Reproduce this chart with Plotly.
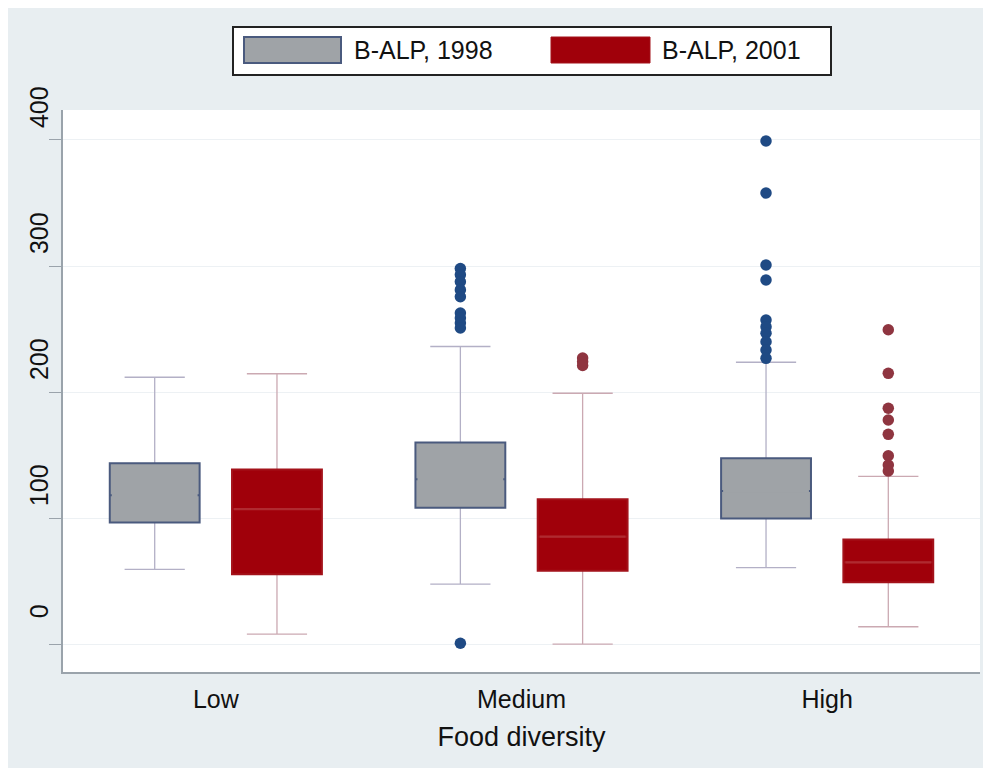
import plotly.graph_objects as go

# ---------------- data (B-ALP) ----------------
categories = ["Low", "Medium", "High"]

q1_1998 = [96.4, 108.2, 99.6]
median_1998 = [118.0, 130.7, 121.4]
q3_1998 = [143.4, 159.9, 147.4]
lower_1998 = [59.3, 47.6, 60.6]
upper_1998 = [211.7, 236.1, 223.6]
out_cat_1998 = [1, 1, 1, 1, 1, 1, 1, 1, 1, 1,
                2, 2, 2, 2, 2, 2, 2, 2, 2, 2]
out_val_1998 = [0.6, 298, 293, 287.5, 281, 275.6, 262.7, 258.7, 254.8, 250.8,
                399.2, 357.9, 300.8, 288.9, 257.1, 251.8, 246.6, 239.9, 233.3, 226.7]

q1_2001 = [55.3, 58.2, 49.0]
median_2001 = [107.1, 85.2, 64.8]
q3_2001 = [138.6, 114.8, 82.9]
lower_2001 = [7.9, 0.0, 13.7]
upper_2001 = [214.5, 199.0, 133.0]
out_cat_2001 = [1, 1, 1,
                2, 2, 2, 2, 2, 2, 2, 2]
out_val_2001 = [227, 224, 221,
                249.4, 214.8, 187.1, 177.8, 166.4, 149.4, 142.0, 137.3]

y_ticks = [0, 100, 200, 300, 400]
legend_labels = ["B-ALP, 1998", "B-ALP, 2001"]

# ---------------- layout constants ----------------
W, H = 986, 768
ML, MR, MT, MB = 63, 6, 110, 96
PW, PH = W - ML - MR, H - MT - MB
FONT = "Liberation Sans, Arial, Helvetica, sans-serif"
OFFSET = 0.2
BOXW = 0.294

styles = [
    dict(fill="#9fa3a7", outline="#4a5a7e", whisk="#b3b0c6", median="#9fa3a7", mw=3.2, dot="#1f4a84"),
    dict(fill="#a0000a", outline="#a3121a", whisk="#cba9b2", median="#b02a30", mw=2.2, dot="#8f3540"),
]


def px_x(px):
    return (px - ML) / PW


def px_y(py):
    return (H - MB - py) / PH


fig = go.Figure()

series = [
    (q1_1998, median_1998, q3_1998, lower_1998, upper_1998, out_cat_1998, out_val_1998, -OFFSET),
    (q1_2001, median_2001, q3_2001, lower_2001, upper_2001, out_cat_2001, out_val_2001, OFFSET),
]

for (q1, med, q3, lo, hi, oc, ov, off), st, name in zip(series, styles, legend_labels):
    xpos = [i + off for i in range(len(categories))]
    # whiskers
    fig.add_trace(go.Box(
        x=xpos, q1=med, median=med, q3=med, lowerfence=lo, upperfence=hi,
        width=BOXW, whiskerwidth=0.67, boxpoints=False,
        line=dict(color=st["whisk"], width=1.3), fillcolor="rgba(0,0,0,0)",
        hoverinfo="skip", showlegend=False))
    # boxes
    fig.add_trace(go.Box(
        x=xpos, q1=q1, median=med, q3=q3, lowerfence=q1, upperfence=q3,
        width=BOXW, whiskerwidth=0, boxpoints=False, name=name,
        line=dict(color=st["outline"], width=2), fillcolor=st["fill"],
        showlegend=False))
    # median line
    fig.add_trace(go.Box(
        x=xpos, q1=med, median=med, q3=med, lowerfence=med, upperfence=med,
        width=BOXW * 0.955, whiskerwidth=0, boxpoints=False,
        line=dict(color=st["median"], width=st["mw"]), fillcolor="rgba(0,0,0,0)",
        hoverinfo="skip", showlegend=False))
    # outside values
    fig.add_trace(go.Scatter(
        x=[c + off for c in oc], y=ov, mode="markers",
        marker=dict(size=11.5, color=st["dot"]), showlegend=False, name=name))

shapes = [
    # outer graph region
    dict(type="rect", xref="paper", yref="paper", layer="below",
         x0=px_x(8), x1=px_x(983), y0=px_y(768), y1=px_y(8),
         fillcolor="#e8eef1", line=dict(width=0)),
    # plot region
    dict(type="rect", xref="paper", yref="paper", layer="below",
         x0=0, x1=1, y0=0, y1=1, fillcolor="white", line=dict(width=0)),
    # legend frame
    dict(type="rect", xref="paper", yref="paper",
         x0=px_x(233), x1=px_x(831), y0=px_y(75), y1=px_y(27),
         fillcolor="white", line=dict(color="#222222", width=2)),
    # legend keys
    dict(type="rect", xref="paper", yref="paper",
         x0=px_x(244), x1=px_x(341), y0=px_y(63), y1=px_y(37),
         fillcolor=styles[0]["fill"], line=dict(color=styles[0]["outline"], width=2)),
    dict(type="rect", xref="paper", yref="paper",
         x0=px_x(551), x1=px_x(650), y0=px_y(63), y1=px_y(37),
         fillcolor=styles[1]["fill"], line=dict(color=styles[1]["outline"], width=1)),
]

annotations = [
    dict(xref="paper", yref="paper", x=px_x(352), y=px_y(50), xanchor="left", yanchor="middle",
         text=legend_labels[0], showarrow=False, font=dict(family=FONT, size=25, color="#111")),
    dict(xref="paper", yref="paper", x=px_x(660), y=px_y(50), xanchor="left", yanchor="middle",
         text=legend_labels[1], showarrow=False, font=dict(family=FONT, size=25, color="#111")),
]

fig.update_layout(
    width=W, height=H,
    margin=dict(l=ML, r=MR, t=MT, b=MB),
    paper_bgcolor="white", plot_bgcolor="rgba(0,0,0,0)",
    font=dict(family=FONT, color="#111"),
    showlegend=False,
    shapes=shapes, annotations=annotations,
    xaxis=dict(
        range=[-0.5, len(categories) - 0.5],
        tickvals=list(range(len(categories))), ticktext=categories,
        ticks="", showgrid=False, zeroline=False,
        showline=True, linecolor="#9aa3ab", linewidth=1.5,
        tickfont=dict(family=FONT, size=25, color="#111"),
        ticklabelstandoff=4,
        title=dict(text="Food diversity", font=dict(family=FONT, size=27, color="#111"), standoff=15),
    ),
    yaxis=dict(
        range=[-22.2, 423.8],
        tickvals=y_ticks, ticktext=[str(v) for v in y_ticks],
        ticks="outside", ticklen=12, tickcolor="#9aa3ab", tickwidth=1.2,
        tickangle=-90, ticklabelshift=-29, ticklabelstandoff=-9,
        showgrid=True, gridcolor="#edf1f4", gridwidth=1, zeroline=False,
        showline=True, linecolor="#9aa3ab", linewidth=1.5,
        tickfont=dict(family=FONT, size=25, color="#111"),
    ),
)

fig.write_html("out.html")
